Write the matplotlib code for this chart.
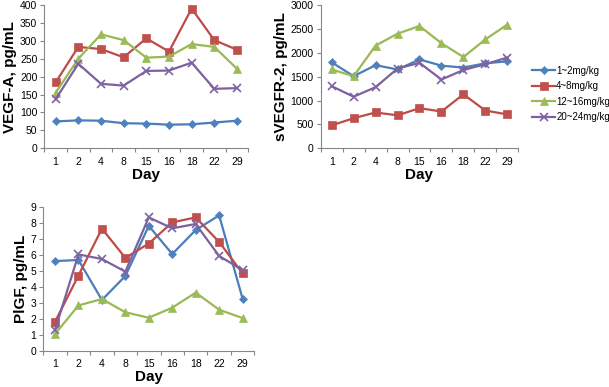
import matplotlib
matplotlib.use("Agg")
import matplotlib.pyplot as plt
import numpy as np

plt.rcParams['font.family'] = ['Liberation Sans', 'DejaVu Sans']

days = ["1", "2", "4", "8", "15", "16", "18", "22", "29"]
series_names = ["1~2mg/kg", "4~8mg/kg", "12~16mg/kg", "20~24mg/kg"]

vegfa_1_2 = [75, 78, 77, 70, 69, 66, 67, 72, 77]
vegfa_4_8 = [184, 283, 277, 254, 307, 270, 390, 302, 275]
vegfa_12_16 = [155, 250, 318, 302, 253, 256, 291, 283, 222]
vegfa_20_24 = [137, 236, 180, 175, 216, 217, 239, 166, 168]

svegfr_1_2 = [1800, 1510, 1740, 1650, 1860, 1730, 1690, 1780, 1820]
svegfr_4_8 = [480, 630, 750, 690, 840, 770, 1130, 790, 710]
svegfr_12_16 = [1650, 1510, 2150, 2400, 2560, 2200, 1910, 2280, 2590]
svegfr_20_24 = [1300, 1080, 1280, 1670, 1790, 1440, 1640, 1760, 1900]

plgf_1_2 = [5.6, 5.67, 3.17, 4.67, 7.8, 6.04, 7.54, 8.46, 3.25]
plgf_4_8 = [1.81, 4.7, 7.63, 5.8, 6.7, 8.02, 8.33, 6.8, 4.83]
plgf_12_16 = [1.04, 2.83, 3.23, 2.4, 2.06, 2.69, 3.63, 2.56, 2.04]
plgf_20_24 = [1.29, 6.02, 5.73, 4.94, 8.33, 7.65, 7.92, 5.92, 5.04]

line_colors = ["#4A7EBB", "#BE4B48", "#98B954", "#7D60A0"]
face_colors = ["#4F81BD", "#C0504D", "#9BBB59", "#8064A2"]
markers = ["D", "s", "^", "x"]
msizes = [4.2, 6.2, 6.0, 5.5]

W, H = 609, 387
fig = plt.figure(figsize=(W / 100, H / 100), dpi=100)

def add_ax(left, right, top, bottom):
    return fig.add_axes([left / W, 1 - bottom / H, (right - left) / W, (bottom - top) / H])

gray = "#868686"

def style(ax, ymax, ystep, ylabel):
    n = len(days)
    x = np.arange(n)
    ax.set_xlim(-0.5, n - 0.5)
    ax.set_ylim(0, ymax)
    ax.set_yticks(np.arange(0, ymax + ystep / 2, ystep))
    ax.set_xticks(x)
    ax.set_xticklabels(days)
    ax.set_xticks(np.arange(-0.5, n, 1), minor=True)
    ax.tick_params(axis='x', which='major', length=0, pad=6, labelsize=7.5)
    ax.tick_params(axis='x', which='minor', length=3, color=gray, width=0.8)
    ax.tick_params(axis='y', length=3, color=gray, width=0.8, labelsize=7.5, pad=2)
    for s in ['top', 'right']:
        ax.spines[s].set_visible(False)
    for s in ['left', 'bottom']:
        ax.spines[s].set_color(gray)
        ax.spines[s].set_linewidth(0.8)
    ax.set_ylabel(ylabel, fontsize=11, fontweight='bold', labelpad=2)
    ax.set_xlabel("Day", fontsize=11, fontweight='bold', labelpad=1)
    ax.set_facecolor('none')

def draw(ax, data):
    x = np.arange(len(days))
    handles = []
    for i, vals in enumerate(data):
        h, = ax.plot(x, vals, color=line_colors[i], lw=1.6, marker=markers[i],
                     markersize=msizes[i], markerfacecolor=face_colors[i],
                     markeredgecolor=face_colors[i], markeredgewidth=1.2 if markers[i] == 'x' else 0.5,
                     label=series_names[i], clip_on=False, zorder=3)
        handles.append(h)
    return handles

ax1 = add_ax(44.3, 248.3, 5, 148.3)
style(ax1, 400, 50, "VEGF-A, pg/mL")
draw(ax1, [vegfa_1_2, vegfa_4_8, vegfa_12_16, vegfa_20_24])

ax2 = add_ax(320.7, 518.3, 5, 148.3)
style(ax2, 3000, 500, "sVEGFR-2, pg/mL")
handles = draw(ax2, [svegfr_1_2, svegfr_4_8, svegfr_12_16, svegfr_20_24])

ax3 = add_ax(43.3, 254.3, 206.7, 350.7)
style(ax3, 9, 1, "PlGF, pg/mL")
draw(ax3, [plgf_1_2, plgf_4_8, plgf_12_16, plgf_20_24])

fig.legend(handles=handles, labels=series_names, loc='upper left',
           bbox_to_anchor=(528 / W, 1 - 62 / H), frameon=False, fontsize=7,
           handlelength=2.4, handletextpad=0.1, labelspacing=0.55, borderaxespad=0)

fig.savefig("out.png", dpi=100)
